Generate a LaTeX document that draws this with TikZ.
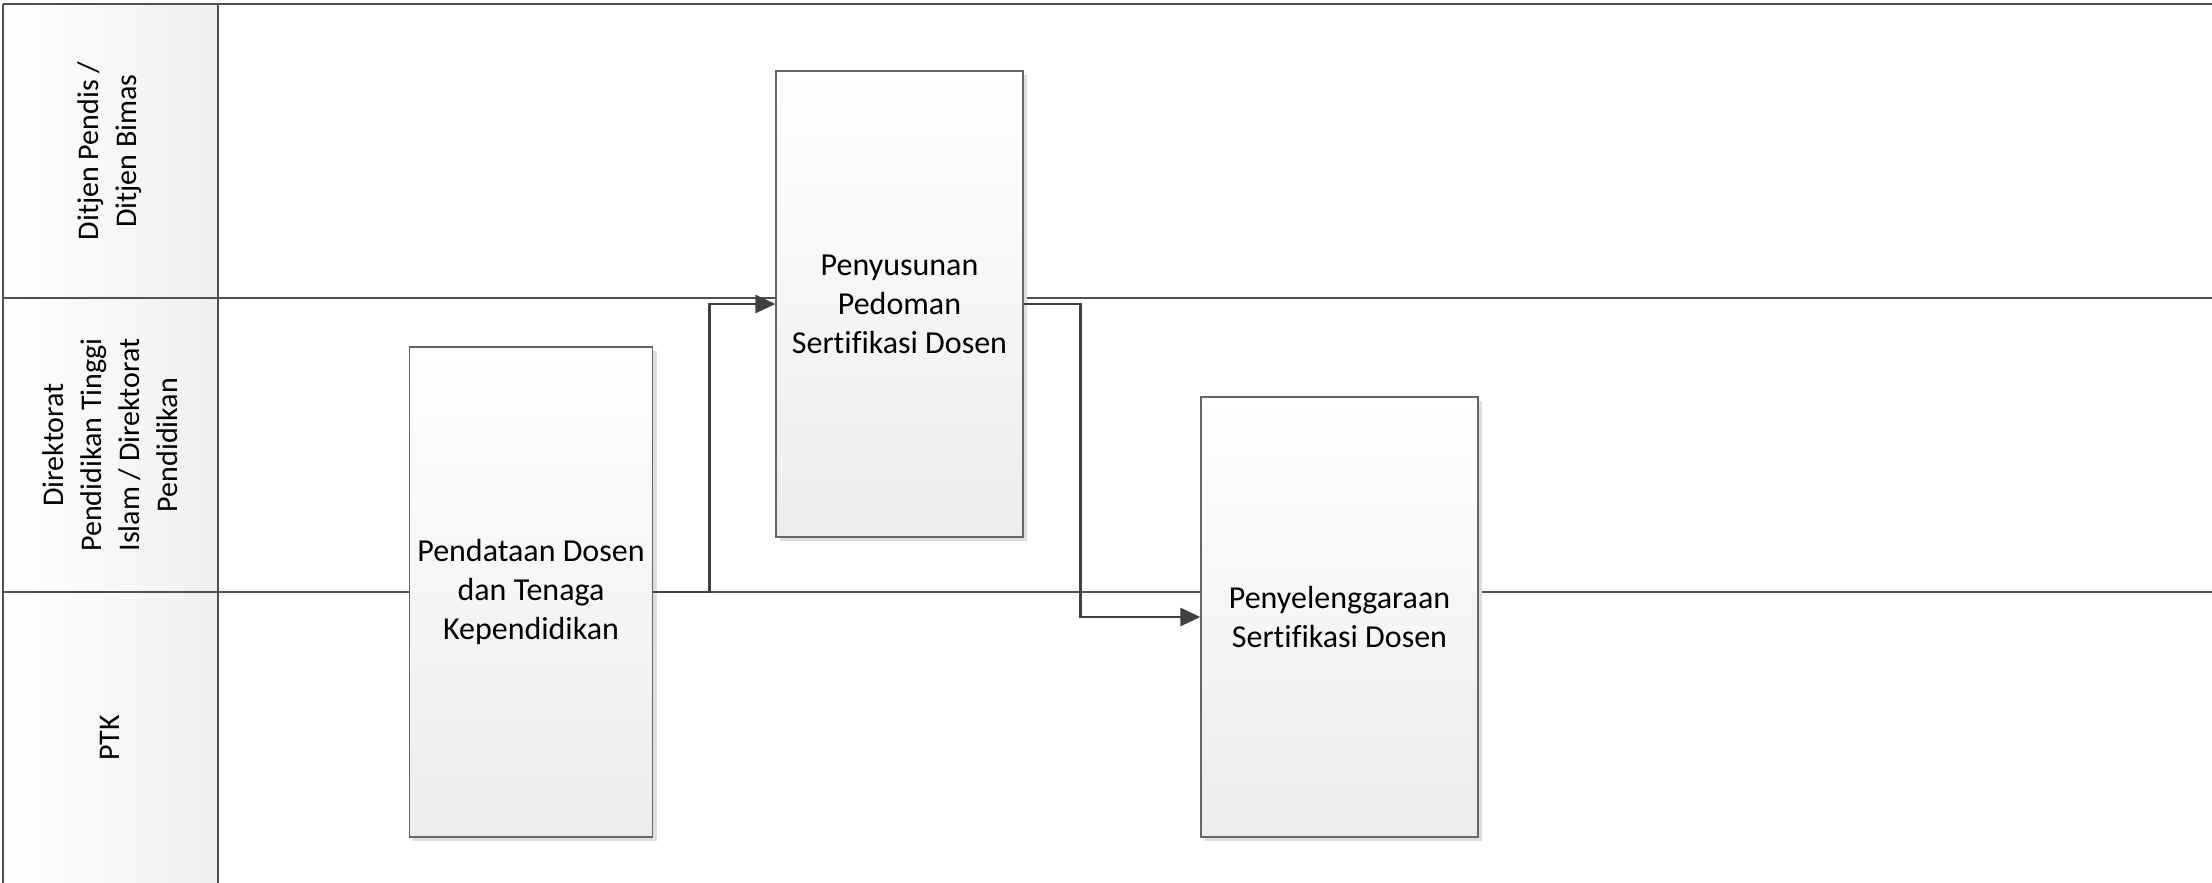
\documentclass[tikz,border=0pt]{standalone}
\usepackage{fontspec}
\setmainfont{Carlito}[Ligatures=NoCommon]
\usetikzlibrary{arrows.meta,shadows}
\definecolor{lanecol}{HTML}{505050}
\definecolor{conncol}{HTML}{404040}
\definecolor{boxcol}{HTML}{666666}
\definecolor{boxbot}{HTML}{ECECEC}
\definecolor{hdrcol}{HTML}{EFEFEF}
\begin{document}
\begin{tikzpicture}[x=0.5pt,y=-0.5pt,
  laneline/.style={draw=lanecol, line width=1.1pt},
  proc/.style={draw=boxcol, line width=0.6pt, top color=white, bottom color=boxbot,
    align=center, inner sep=4pt, font=\fontsize{16}{19.5}\selectfont,
    general shadow={fill=black!13, shadow xshift=2pt, shadow yshift=-2pt}},
  lanelabel/.style={rotate=90, align=center, font=\fontsize{15}{19}\selectfont},
  conn/.style={draw=conncol, line width=1.4pt, -{Triangle[length=10pt,width=9pt]}}]
\useasboundingbox (0,0) rectangle (2212,883);
\fill[white] (0,0) rectangle (2212,883);
% header column
\fill[left color=white, right color=hdrcol] (3,4) rectangle (218,883);
% lane lines
\draw[laneline] (3,4) -- (2212,4);
\draw[laneline] (3,298) -- (2212,298);
\draw[laneline] (3,592) -- (2212,592);
\draw[laneline] (3,4) -- (3,883);
\draw[laneline] (218,4) -- (218,883);
% lane labels
\node[lanelabel] (l1) at (110,151) {Ditjen Pendis /\\Ditjen Bimas};
\node[lanelabel] (l2) at (110,445) {Direktorat\\Pendidikan Tinggi\\Islam / Direktorat\\Pendidikan};
\node[lanelabel] (l3) at (110,738) {PTK};
% process boxes
\node[proc, minimum width=121pt, minimum height=245pt] (pd) at (531,592)
  {Pendataan Dosen\\dan Tenaga\\Kependidikan};
\node[proc, minimum width=123.5pt, minimum height=233pt] (ps) at (899.5,304)
  {Penyusunan\\Pedoman\\Sertifikasi Dosen};
\node[proc, minimum width=138.5pt, minimum height=220pt] (pe) at (1339.5,617)
  {Penyelenggaraan\\Sertifikasi Dosen};
% connectors
\draw[conn] (pd.east) -- ++(56,0) |- (ps.west);
\draw[conn] (ps.east) -- ++(57,0) |- (pe.west);
\end{tikzpicture}
\end{document}
